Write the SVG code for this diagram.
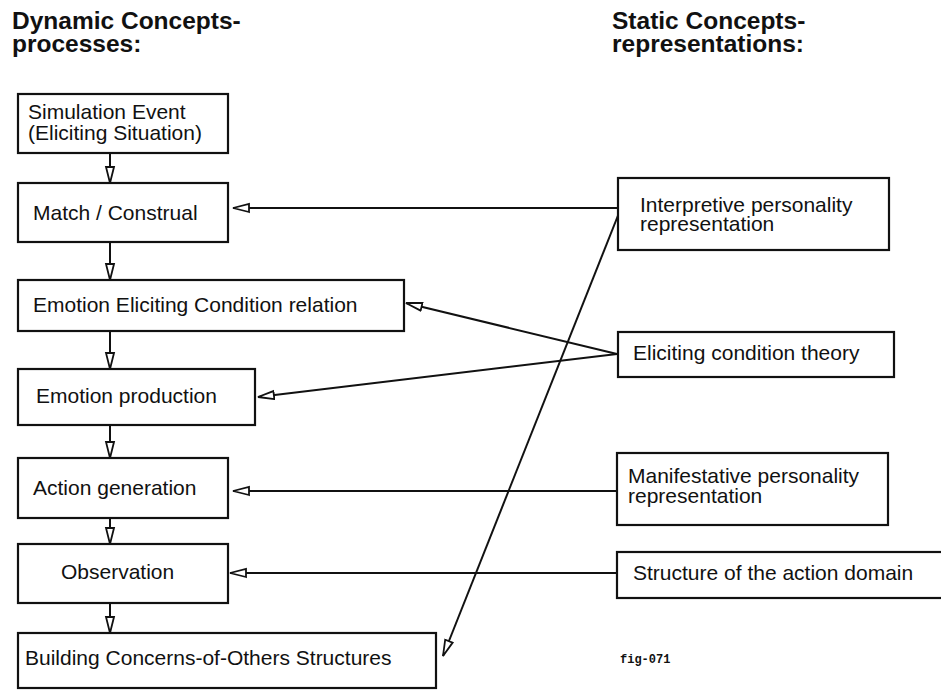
<svg xmlns="http://www.w3.org/2000/svg" width="941" height="690" viewBox="0 0 941 690">
  <style>
    .box { fill: #ffffff; stroke: #111111; stroke-width: 2.2; }
    .lbl { font-family: "Liberation Sans", Arial, sans-serif; font-size: 21px; fill: #111111; }
    .head { font-family: "Liberation Sans", Arial, sans-serif; font-size: 24.5px; font-weight: bold; fill: #111111; }
    .tag { font-family: "Liberation Mono", "Courier New", monospace; font-size: 12px; font-weight: bold; fill: #111111; }
    .link { fill: none; stroke: #111111; stroke-width: 2; marker-end: url(#open); }
  </style>
  <defs>
    <marker id="open" viewBox="-1 -6 18 12" refX="16" refY="0" markerWidth="18" markerHeight="12" markerUnits="userSpaceOnUse" orient="auto">
      <path d="M0,-4 L16,0 L0,4 Z" fill="#ffffff" stroke="#111111" stroke-width="1.8" stroke-linejoin="miter"/>
    </marker>
  </defs>
  <rect width="941" height="690" fill="#ffffff"/>

  <!-- column headings -->
  <g id="head-dynamic">
    <text class="head" x="12" y="29">Dynamic Concepts-<tspan x="12" y="52">processes:</tspan></text>
  </g>
  <g id="head-static">
    <text class="head" x="612" y="29">Static Concepts-<tspan x="612" y="52">representations:</tspan></text>
  </g>

  <!-- connectors -->
  <g id="connectors">
    <line class="link" x1="110" y1="153" x2="110" y2="183"/>
    <line class="link" x1="110" y1="242" x2="110" y2="280"/>
    <line class="link" x1="110" y1="331" x2="110" y2="369"/>
    <line class="link" x1="110" y1="425" x2="110" y2="458"/>
    <line class="link" x1="110" y1="518" x2="110" y2="544"/>
    <line class="link" x1="110" y1="603" x2="110" y2="633"/>
    <line class="link" x1="618" y1="208" x2="233" y2="208"/>
    <line class="link" x1="619" y1="213" x2="443" y2="656"/>
    <line class="link" x1="617" y1="354" x2="406" y2="303"/>
    <line class="link" x1="617" y1="354" x2="258" y2="397"/>
    <line class="link" x1="617" y1="491" x2="233" y2="491"/>
    <line class="link" x1="617" y1="573" x2="230" y2="573"/>
  </g>

  <!-- processes -->
  <g id="simulation-event">
    <rect class="box" x="18" y="94" width="210" height="59"/>
    <text class="lbl" x="28" y="119">Simulation Event<tspan x="28" y="140">(Eliciting Situation)</tspan></text>
  </g>
  <g id="match-construal">
    <rect class="box" x="18" y="183" width="210" height="59"/>
    <text class="lbl" x="33" y="220">Match / Construal</text>
  </g>
  <g id="ecc-relation">
    <rect class="box" x="18" y="280" width="386" height="51"/>
    <text class="lbl" x="33" y="312">Emotion Eliciting Condition relation</text>
  </g>
  <g id="emotion-production">
    <rect class="box" x="18" y="369" width="237" height="56"/>
    <text class="lbl" x="36" y="403">Emotion production</text>
  </g>
  <g id="action-generation">
    <rect class="box" x="18" y="458" width="210" height="60"/>
    <text class="lbl" x="33" y="495">Action generation</text>
  </g>
  <g id="observation">
    <rect class="box" x="18" y="544" width="210" height="59"/>
    <text class="lbl" x="61" y="579">Observation</text>
  </g>
  <g id="concerns-of-others">
    <rect class="box" x="18" y="633" width="418" height="55"/>
    <text class="lbl" x="25" y="665">Building Concerns-of-Others Structures</text>
  </g>

  <!-- representations -->
  <g id="interpretive-personality">
    <rect class="box" x="618" y="178" width="271" height="72"/>
    <text class="lbl" x="640" y="212">Interpretive personality<tspan x="640" y="231">representation</tspan></text>
  </g>
  <g id="eliciting-condition-theory">
    <rect class="box" x="618" y="332" width="276" height="45"/>
    <text class="lbl" x="633" y="360">Eliciting condition theory</text>
  </g>
  <g id="manifestative-personality">
    <rect class="box" x="617" y="453" width="271" height="72"/>
    <text class="lbl" x="628" y="483">Manifestative personality<tspan x="628" y="503">representation</tspan></text>
  </g>
  <g id="action-domain">
    <rect class="box" x="617" y="552" width="330" height="46"/>
    <text class="lbl" x="633" y="580">Structure of the action domain</text>
  </g>

  <text class="tag" x="620" y="663">fig-071</text>
</svg>
